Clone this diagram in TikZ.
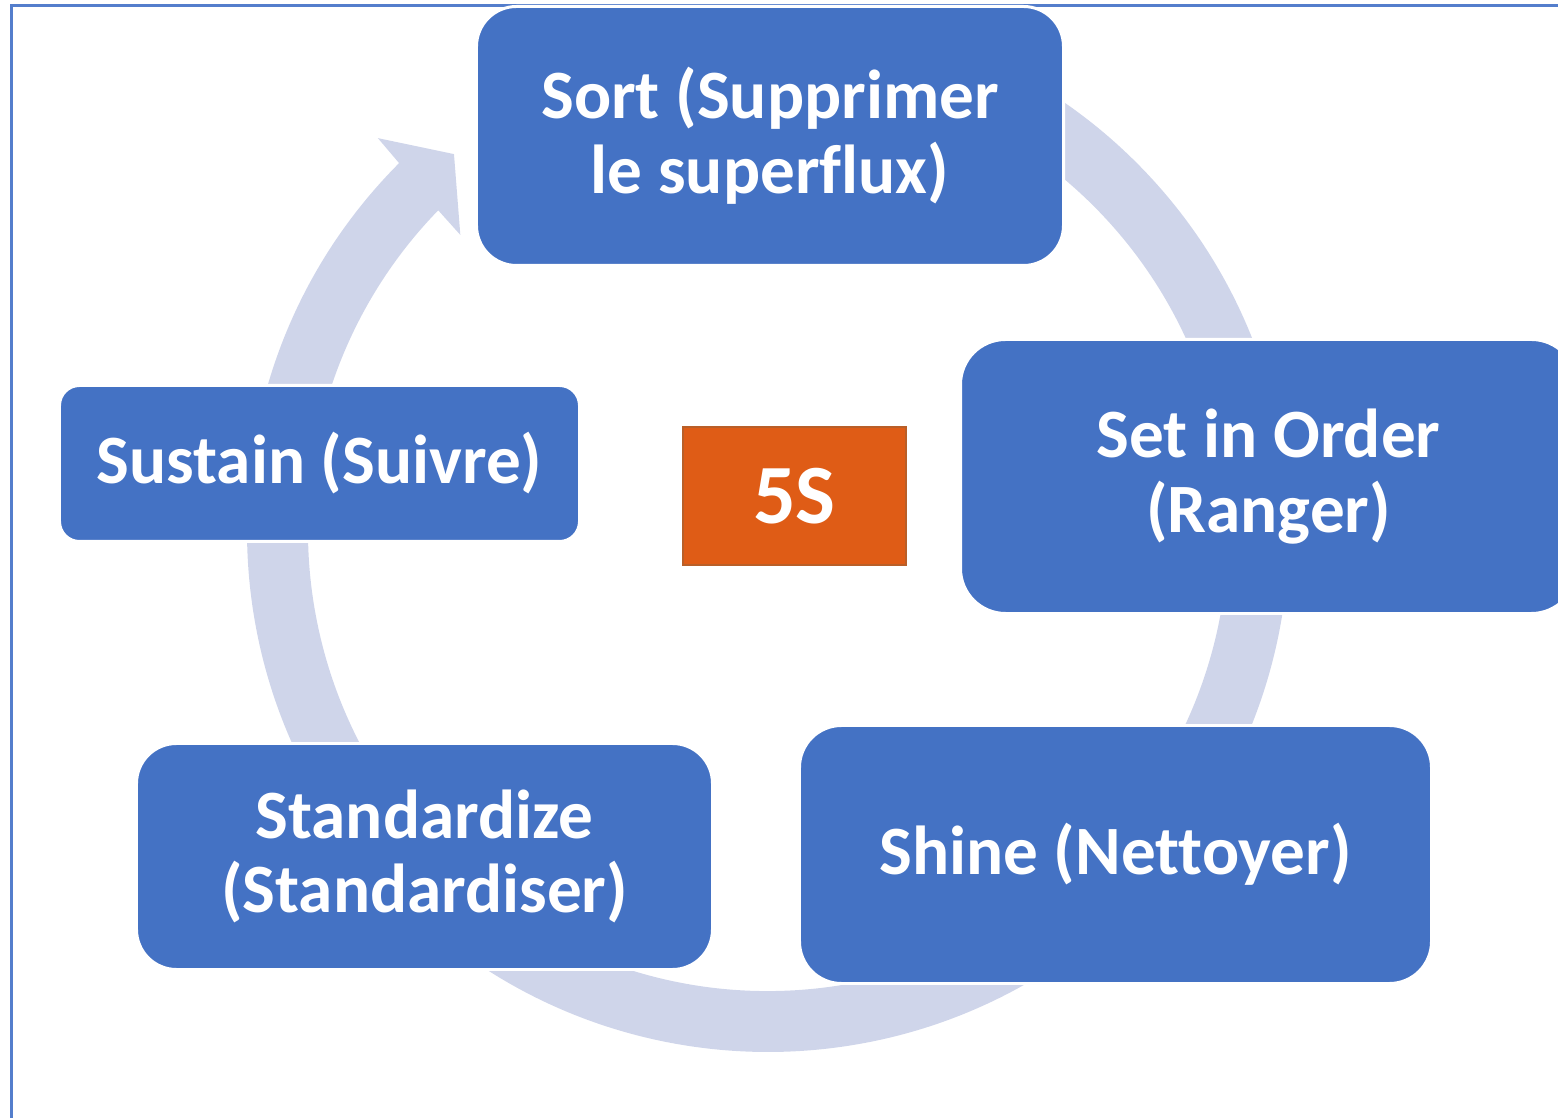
\documentclass[tikz,border=0pt]{standalone}
\usepackage{fontspec}
\setmainfont{Carlito}[Ligatures=NoCommon]
\definecolor{boxblue}{RGB}{68,114,196}
\definecolor{ringblue}{RGB}{207,213,234}
\definecolor{fiveorange}{RGB}{223,92,22}
\definecolor{fiveedge}{RGB}{185,95,40}
\definecolor{frameblue}{RGB}{84,126,204}

\begin{document}
\begin{tikzpicture}[
    phase/.style={draw=white,line width=0.85pt,fill=boxblue,rounded corners=0.4cm,
      text=white,align=center,inner sep=0pt,
      font=\bfseries\fontsize{19.7}{21.3}\selectfont},
    center/.style={draw=fiveedge,line width=0.6pt,fill=fiveorange,text=white,
      inner sep=0pt,font=\bfseries\fontsize{24}{26}\selectfont}]
      \useasboundingbox (0,0) rectangle (15.58,-11.18);
      \clip (0,0) rectangle (15.58,-11.18);

      % frame, only its left and top sides show
      \draw [frameblue,line width=0.6pt] (0.115,-11.5) |- (16,-0.055);

      % cycle arrow
      \coordinate (ring) at (7.68,-5.31);
      \fill [ringblue,shift={(ring)}] (135.08:5.21)
          arc [start angle=135.08,end angle=460,radius=5.21]
          -- (460:4.60)
          arc [start angle=460,end angle=135.8,radius=4.60]
          -- (136.1:4.27) -- (129.8:4.906) -- (134.8:5.537) -- cycle;

      \node[phase,minimum width=5.87cm,minimum height=2.59cm] (Sort) at (7.70,-1.36) {Sort (Supprimer\\le superflux)};
      \node[phase,minimum width=6.16cm,minimum height=2.74cm,rounded corners=0.45cm] (SetOrder) at (12.685,-4.765) {Set in Order\\(Ranger)};
      \node[phase,minimum width=6.32cm,minimum height=2.58cm,rounded corners=0.42cm] (Shine) at (11.155,-8.545) {Shine (Nettoyer)};
      \node[phase,minimum width=5.76cm,minimum height=2.26cm] (Standardize) at (4.245,-8.565) {Standardize\\(Standardiser)};
      \node[phase,minimum width=5.20cm,minimum height=1.56cm,rounded corners=0.2cm] (Sustain) at (3.195,-4.635) {Sustain (Suivre)};

      \node[center,minimum width=2.23cm,minimum height=1.38cm] (FiveS) at (7.945,-4.96) {5S};
    \end{tikzpicture}
\end{document}
